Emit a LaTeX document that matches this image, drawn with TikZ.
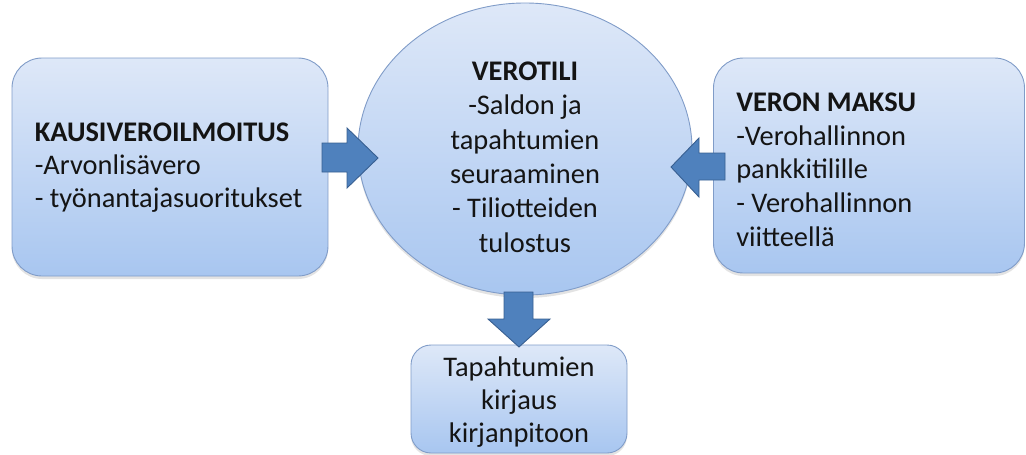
\documentclass[tikz,border=0pt]{standalone}
\usepackage{fontspec}
\setmainfont{Carlito}
\usetikzlibrary{shapes.geometric,shadows}
\definecolor{boxtop}{RGB}{222,232,248}
\definecolor{boxbot}{RGB}{168,198,240}
\definecolor{boxline}{RGB}{128,156,200}
\definecolor{arrfill}{RGB}{79,129,189}
\definecolor{arrline}{RGB}{56,95,145}
\definecolor{txt}{RGB}{20,20,20}
\tikzset{
  shade box/.style={draw=boxline, line width=0.9pt, top color=boxtop, bottom color=boxbot,
    drop shadow={shadow xshift=0pt, shadow yshift=-3pt, opacity=0.22}},
  bigbox/.style={shade box, rectangle, rounded corners=30pt, inner sep=0pt},
  smallbox/.style={shade box, rectangle, rounded corners=20pt, inner sep=0pt},
  txtnode/.style={font=\fontsize{28.4}{33}\selectfont, text=txt, inner sep=0pt},
  blockarrow/.style={fill=arrfill, draw=arrline, line width=0.9pt, line join=miter}
}
\begin{document}
\begin{tikzpicture}[x=1pt,y=-1pt]
\useasboundingbox (0,0) rectangle (1026,455);
% boxes
\node[bigbox, minimum width=316pt, minimum height=218pt] (lb) at (170,167) {};
\node[bigbox, minimum width=311pt, minimum height=215pt] (rb) at (869,165.5) {};
\node[shade box, ellipse, inner sep=0pt, minimum width=334pt, minimum height=292pt] (v) at (525,149) {};
\node[smallbox, minimum width=216pt, minimum height=108pt] (bb) at (519,399) {};
% texts
\node[txtnode, align=center] (bt) at (519,402)
  {Tapahtumien\\kirjaus\\kirjanpitoon};
\node[txtnode, anchor=west, align=left] (lt) at ([xshift=23pt,yshift=-1pt]lb.west)
  {\textbf{KAUSIVEROILMOITUS}\\-Arvonlisävero\\- työnantajasuoritukset};
\node[txtnode, anchor=west, align=left, font=\fontsize{28.4}{33.7}\selectfont] (rt) at ([xshift=23pt,yshift=-4pt]rb.west)
  {\textbf{VERON MAKSU}\\-Verohallinnon\\pankkitilille\\- Verohallinnon\\viitteellä};
\node[txtnode, align=center, font=\fontsize{28.4}{34.4}\selectfont] (vt) at (525,157)
  {\textbf{VEROTILI}\\-Saldon ja\\tapahtumien\\seuraaminen\\- Tiliotteiden\\tulostus};
% block arrows
\draw[blockarrow] (322,143) -- (347,143) -- (347,128) -- (378,158) -- (347,188) -- (347,172) -- (322,172) -- cycle;
\draw[blockarrow] (725,153) -- (699,153) -- (699,138) -- (671,167) -- (699,197) -- (699,180) -- (725,180) -- cycle;
\draw[blockarrow] (504,292) -- (533,292) -- (533,319) -- (550,319) -- (519,347) -- (488,319) -- (504,319) -- cycle;
\end{tikzpicture}
\end{document}
